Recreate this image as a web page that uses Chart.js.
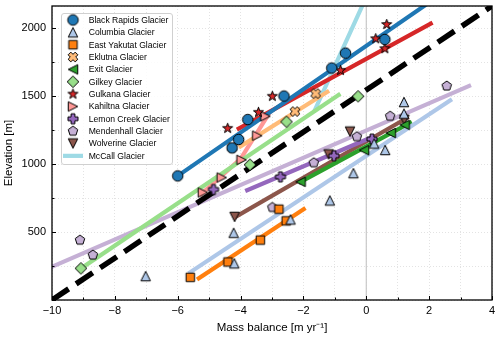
<!DOCTYPE html>
<html>
<head>
<meta charset="utf-8">
<script src="https://cdn.jsdelivr.net/npm/chart.js@4.4.1/dist/chart.umd.min.js"></script>
<style>
  html, body { margin: 0; padding: 0; background: #fff; }
</style>
</head>
<body>
<canvas id="glacierChart" width="500" height="340"></canvas>
<script>
// points: [mass balance (m/yr), elevation (m)]
const blackRapidsPts = [[-6.0, 914], [-4.27, 1120], [-4.06, 1182], [-3.77, 1329], [-2.62, 1502], [-1.10, 1708], [-0.66, 1818], [0.59, 1919]];
const columbiaPts = [[-7.02, 176], [-4.22, 495], [-4.2, 270], [-2.41, 593], [-1.16, 733], [-0.41, 934], [0.25, 1152], [0.60, 1105], [1.20, 1458], [1.20, 1372]];
const eastYakutatPts = [[-5.6, 167], [-4.40, 280], [-3.37, 441], [-2.78, 669], [-2.55, 583]];
const eklutnaPts = [[-4.27, 1123], [-2.27, 1388], [-1.61, 1520]];
const exitPts = [[-2.09, 870], [-0.07, 1103], [0.78, 1230], [1.22, 1290]];
const gilkeyPts = [[-9.08, 233], [-3.70, 996], [-2.54, 1313], [-0.26, 1500]];
const gulkanaPts = [[-4.41, 1264], [-3.43, 1382], [-2.99, 1500], [-0.82, 1691], [0.30, 1924], [0.59, 1851], [0.65, 2029]];
const kahiltnaPts = [[-5.2, 792], [-4.6, 902], [-3.97, 1032], [-3.47, 1210], [-3.21, 1353]];
const lemonCreekPts = [[-4.86, 814], [-2.73, 907], [-1.03, 1062], [0.18, 1185]];
const mendenhallPts = [[-9.11, 441], [-8.70, 331], [-2.99, 682], [-1.67, 1011], [-0.30, 1203], [0.76, 1354], [2.56, 1576]];
const wolverinePts = [[-4.19, 612], [-1.20, 1072], [-0.52, 1240], [1.21, 1327]];

// fitted lines, end points (and bends)
const blackRapidsFit = [[-6.0, 914], [1.84, 2165]];
const columbiaFit = [[-5.6, 205], [2.67, 1470]];
const eastYakutatFit = [[-5.33, 160], [-1.99, 669]];
const eklutnaFit = [[-4.0, 1132], [-1.24, 1532]];
const exitFit = [[-2.09, 870], [1.39, 1304]];
const gilkeyFit = [[-9.0, 245], [-0.88, 1510]];
const gulkanaFit = [[-4.06, 1262], [2.05, 2035]];
const kahiltnaFit = [[-5.25, 780], [-4.0, 1040], [-3.1, 1370]];
const lemonCreekFit = [[-3.79, 809], [0.19, 1200]];
const mendenhallFit = [[-10, 245], [3.27, 1576]];
const wolverineFit = [[-4.16, 612], [1.29, 1340]];
const mcCallFit = [[-1.64, 1397], [-0.13, 2165]];
const oneToOne = [[-10, 0], [4, 2165]];

const xTickLabels = [-10, -8, -6, -4, -2, 0, 2, 4];
const yTickLabels = [500, 1000, 1500, 2000];

// marker images (matplotlib-like filled markers with black edge)
function makeMarker(shape, fill, size) {
  const dim = Math.ceil(size) + 4;
  const c = document.createElement("canvas");
  c.width = dim; c.height = dim;
  const g = c.getContext("2d");
  const cx = dim / 2, cy = dim / 2, r = size / 2;
  const poly = pts => { g.moveTo(cx + pts[0][0], cy + pts[0][1]); pts.slice(1).forEach(p => g.lineTo(cx + p[0], cy + p[1])); g.closePath(); };
  g.beginPath();
  if (shape === "o") g.arc(cx, cy, r, 0, Math.PI * 2);
  else if (shape === "^") poly([[0, -r], [r, r], [-r, r]]);
  else if (shape === "v") poly([[0, r], [r, -r], [-r, -r]]);
  else if (shape === "<") poly([[-r, 0], [r, -r], [r, r]]);
  else if (shape === ">") poly([[r, 0], [-r, -r], [-r, r]]);
  else if (shape === "s") poly([[-r, -r], [r, -r], [r, r], [-r, r]]);
  else if (shape === "D") poly([[0, -r], [r, 0], [0, r], [-r, 0]]);
  else if (shape === "p" || shape === "*") {
    const n = shape === "p" ? 5 : 10, pts = [];
    for (let i = 0; i < n; i++) {
      const a = -Math.PI / 2 + i * 2 * Math.PI / n;
      const rr = shape === "*" && i % 2 ? r * 0.4 : r;
      pts.push([rr * Math.cos(a), rr * Math.sin(a)]);
    }
    poly(pts);
  } else if (shape === "P" || shape === "X") {
    const t = r * 0.38, pts = [];
    const base = [[-t, -r], [t, -r], [t, -t], [r, -t], [r, t], [t, t], [t, r], [-t, r], [-t, t], [-r, t], [-r, -t], [-t, -t]];
    const rot = shape === "X" ? Math.PI / 4 : 0;
    base.forEach(([px, py]) => pts.push([px * Math.cos(rot) - py * Math.sin(rot), px * Math.sin(rot) + py * Math.cos(rot)]));
    poly(pts);
  }
  g.fillStyle = fill;
  g.fill();
  g.lineWidth = 1;
  g.lineJoin = "miter";
  g.strokeStyle = "#000";
  g.stroke();
  return c;
}

const glaciers = [
  { label: "Black Rapids Glacier", color: "#1f77b4", shape: "o", size: 10.5, pts: blackRapidsPts, fit: blackRapidsFit },
  { label: "Columbia Glacier", color: "#aec7e8", shape: "^", size: 9.5, pts: columbiaPts, fit: columbiaFit },
  { label: "East Yakutat Glacier", color: "#ff7f0e", shape: "s", size: 8.5, pts: eastYakutatPts, fit: eastYakutatFit },
  { label: "Eklutna Glacier", color: "#ffbb78", shape: "X", size: 10, pts: eklutnaPts, fit: eklutnaFit },
  { label: "Exit Glacier", color: "#2ca02c", shape: "<", size: 9.5, pts: exitPts, fit: exitFit },
  { label: "Gilkey Glacier", color: "#98df8a", shape: "D", size: 11.5, pts: gilkeyPts, fit: gilkeyFit },
  { label: "Gulkana Glacier", color: "#d62728", shape: "*", size: 10.5, pts: gulkanaPts, fit: gulkanaFit },
  { label: "Kahiltna Glacier", color: "#ff9896", shape: ">", size: 9.5, pts: kahiltnaPts, fit: kahiltnaFit },
  { label: "Lemon Creek Glacier", color: "#9467bd", shape: "P", size: 10, pts: lemonCreekPts, fit: lemonCreekFit },
  { label: "Mendenhall Glacier", color: "#c5b0d5", shape: "p", size: 10, pts: mendenhallPts, fit: mendenhallFit },
  { label: "Wolverine Glacier", color: "#8c564b", shape: "v", size: 9.5, pts: wolverinePts, fit: wolverineFit },
  { label: "McCall Glacier", color: "#9edae5", shape: null, pts: [], fit: mcCallFit }
];
glaciers.forEach(gl => { gl.marker = gl.shape ? makeMarker(gl.shape, gl.color, gl.size) : null; });

const toXY = arr => arr.map(p => ({ x: p[0], y: p[1] }));

const datasets = [];
glaciers.forEach(gl => {
  datasets.push({
    label: gl.label + " fit",
    data: toXY(gl.fit),
    showLine: true,
    borderColor: gl.color,
    borderWidth: 4.2,
    borderCapStyle: "square",
    pointRadius: 0,
    order: 2
  });
});
datasets.push({
  label: "1:1",
  data: toXY(oneToOne),
  showLine: true,
  borderColor: "#000",
  borderWidth: 5.5,
  borderDash: [20, 9],
  borderCapStyle: "butt",
  pointRadius: 0,
  order: 1
});
glaciers.filter(gl => gl.marker).forEach(gl => {
  datasets.push({
    label: gl.label,
    data: toXY(gl.pts),
    pointStyle: gl.marker,
    pointRadius: 5,
    order: 0
  });
});

const fmtMinus = v => String(v).replace("-", "\u2212");

// x = 0 line, frame, inward ticks
const framePlugin = {
  id: "frame",
  beforeDatasetsDraw(chart) {
    const { ctx, chartArea: a, scales: { x } } = chart;
    const px = x.getPixelForValue(0);
    ctx.save();
    ctx.strokeStyle = "#c8c8c8";
    ctx.lineWidth = 1.2;
    ctx.beginPath();
    ctx.moveTo(px, a.top);
    ctx.lineTo(px, a.bottom);
    ctx.stroke();
    ctx.restore();
  },
  afterDatasetsDraw(chart) {
    const { ctx, chartArea: a, scales: { x, y } } = chart;
    ctx.save();
    ctx.strokeStyle = "#000";
    ctx.lineWidth = 1;
    ctx.beginPath();
    x.ticks.forEach(t => {
      if (t.value > x.max) return;
      const px = Math.round(x.getPixelForValue(t.value)) + 0.5;
      const len = t.value % 2 === 0 ? 4 : 2.5;
      ctx.moveTo(px, a.bottom);
      ctx.lineTo(px, a.bottom - len);
    });
    y.ticks.forEach(t => {
      if (t.value % 250 !== 0) return;
      const py = Math.round(y.getPixelForValue(t.value)) + 0.5;
      const len = t.value % 500 === 0 ? 4 : 2.5;
      ctx.moveTo(a.left, py);
      ctx.lineTo(a.left + len, py);
    });
    ctx.stroke();
    ctx.lineWidth = 1.3;
    ctx.strokeRect(a.left, a.top, a.right - a.left, a.bottom - a.top);
    ctx.restore();
  }
};

// legend box in the upper left of the plot
const boxLegend = {
  id: "boxLegend",
  afterDraw(chart) {
    const { ctx, chartArea: a } = chart;
    const x0 = a.left + 9, y0 = a.top + 7, w = 111, h = 151;
    ctx.save();
    ctx.beginPath();
    ctx.roundRect(x0 + 0.5, y0 + 0.5, w, h, 2.5);
    ctx.fillStyle = "rgba(255,255,255,0.85)";
    ctx.fill();
    ctx.strokeStyle = "#d0d0d0";
    ctx.lineWidth = 1;
    ctx.stroke();
    ctx.font = "8.6px 'Liberation Sans', Arial, sans-serif";
    ctx.fillStyle = "#000";
    ctx.textBaseline = "middle";
    glaciers.forEach((gl, i) => {
      const yy = y0 + 7 + i * 12.35;
      if (gl.marker) {
        ctx.drawImage(gl.marker, x0 + 12 - gl.marker.width / 2, yy - gl.marker.height / 2);
      } else {
        ctx.strokeStyle = gl.color;
        ctx.lineWidth = 4.2;
        ctx.beginPath();
        ctx.moveTo(x0 + 2, yy);
        ctx.lineTo(x0 + 22, yy);
        ctx.stroke();
      }
      ctx.fillText(gl.label, x0 + 27.7, yy + 0.5);
    });
    ctx.restore();
  }
};

Chart.defaults.font.family = "'Liberation Sans', Arial, sans-serif";
Chart.defaults.color = "#000";

new Chart(document.getElementById("glacierChart").getContext("2d"), {
  type: "scatter",
  data: { datasets },
  options: {
    responsive: false,
    animation: false,
    devicePixelRatio: 1,
    layout: { padding: { top: 6, right: 8, left: 0, bottom: 0 } },
    plugins: { legend: { display: false }, tooltip: { enabled: false } },
    scales: {
      x: {
        type: "linear",
        min: -10,
        max: 4,
        ticks: {
          stepSize: 1,
          maxTicksLimit: 100,
          autoSkip: false,
          maxRotation: 0,
          padding: 4,
          font: { size: 11 },
          callback: v => xTickLabels.includes(v) ? fmtMinus(v) : ""
        },
        grid: { color: "#dcdcdc", lineWidth: 0.8, drawTicks: false },
        border: { display: false, dash: [1, 2] },
        title: { display: true, text: "Mass balance [m yr\u207B\u00B9]", font: { size: 11.5 }, padding: { top: 0, bottom: 5 } },
        afterFit: s => { s.height = 40; }
      },
      y: {
        type: "linear",
        min: 0,
        max: 2165,
        ticks: {
          stepSize: 250,
          maxTicksLimit: 100,
          autoSkip: false,
          padding: 6,
          font: { size: 11 },
          callback: v => yTickLabels.includes(v) ? String(v) : ""
        },
        grid: { color: "#dcdcdc", lineWidth: 0.8, drawTicks: false },
        border: { display: false, dash: [1, 2] },
        title: { display: true, text: "Elevation [m]", font: { size: 11.5 }, padding: { top: 2, bottom: 0 } },
        afterFit: s => { s.width = 52; s.paddingTop = 0; s.paddingBottom = 0; }
      }
    }
  },
  plugins: [framePlugin, boxLegend]
});
</script>
</body>
</html>
